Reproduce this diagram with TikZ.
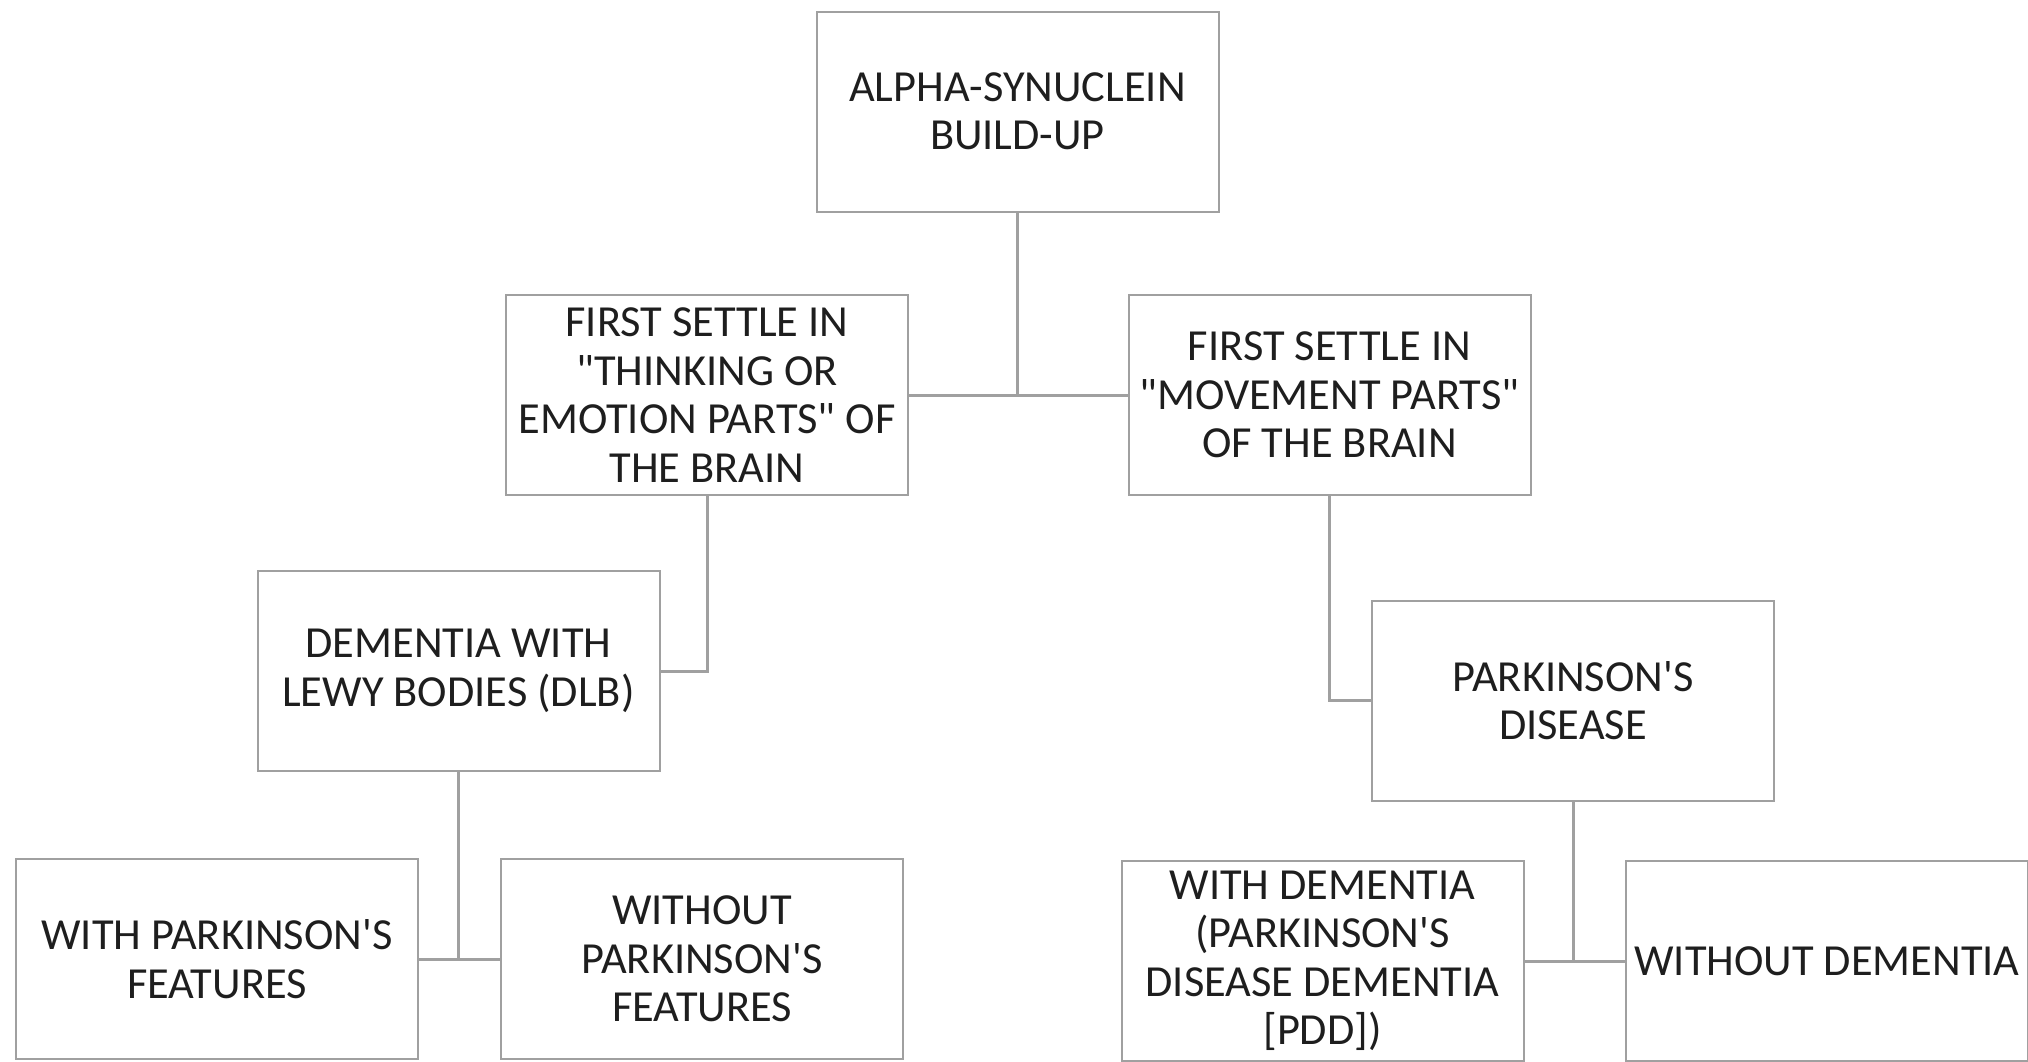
\documentclass[tikz,border=0pt]{standalone}
\usepackage{fontspec}
\setmainfont{Carlito}[Ligatures=TeXOff]
\definecolor{boxgray}{RGB}{160,160,160}
\definecolor{txtgray}{RGB}{30,30,30}
\tikzset{
    box/.style={draw=boxgray, line width=1pt, minimum width=201pt, minimum height=100pt,
        align=center, text=txtgray, font=\fontsize{22.2}{24.2}\selectfont, inner sep=0pt},
    link/.style={draw=boxgray, line width=1.5pt}
}
\begin{document}
\begin{tikzpicture}[x=0.5pt, y=-0.5pt]
\clip (0,0) rectangle (2028,1061);
\useasboundingbox (0,0) rectangle (2028,1061);
% top level
\node[box] (syn) at (1017.5,111.5) {ALPHA-SYNUCLEIN\\BUILD-UP};
\node[box] (think) at (707,395) {FIRST SETTLE IN\\"THINKING OR\\EMOTION PARTS" OF\\THE BRAIN};
\node[box] (move) at (1329.5,395) {FIRST SETTLE IN\\"MOVEMENT PARTS"\\OF THE BRAIN};
% second level
\node[box] (dlb) at (458.5,671) {DEMENTIA WITH\\LEWY BODIES (DLB)};
\node[box] (pd) at (1573,700.5) {PARKINSON'S\\DISEASE};
% leaves
\node[box] (withpf) at (217,959) {WITH PARKINSON'S\\FEATURES};
\node[box] (nopf) at (702,959) {WITHOUT\\PARKINSON'S\\FEATURES};
\node[box] (withdem) at (1322.5,961) {WITH DEMENTIA\\(PARKINSON'S\\DISEASE DEMENTIA\\{[PDD]})};
\node[box] (nodem) at (1827,961) {WITHOUT DEMENTIA};

\draw[link] (syn.south) |- (think.east);
\draw[link] (syn.south) |- (move.west);
\draw[link] (think.south) |- (dlb.east);
\draw[link] (move.south) |- (pd.west);
\draw[link] (dlb.south) |- (withpf.east);
\draw[link] (dlb.south) |- (nopf.west);
\draw[link] (pd.south) |- (withdem.east);
\draw[link] (pd.south) |- (nodem.west);
\end{tikzpicture}
\end{document}
